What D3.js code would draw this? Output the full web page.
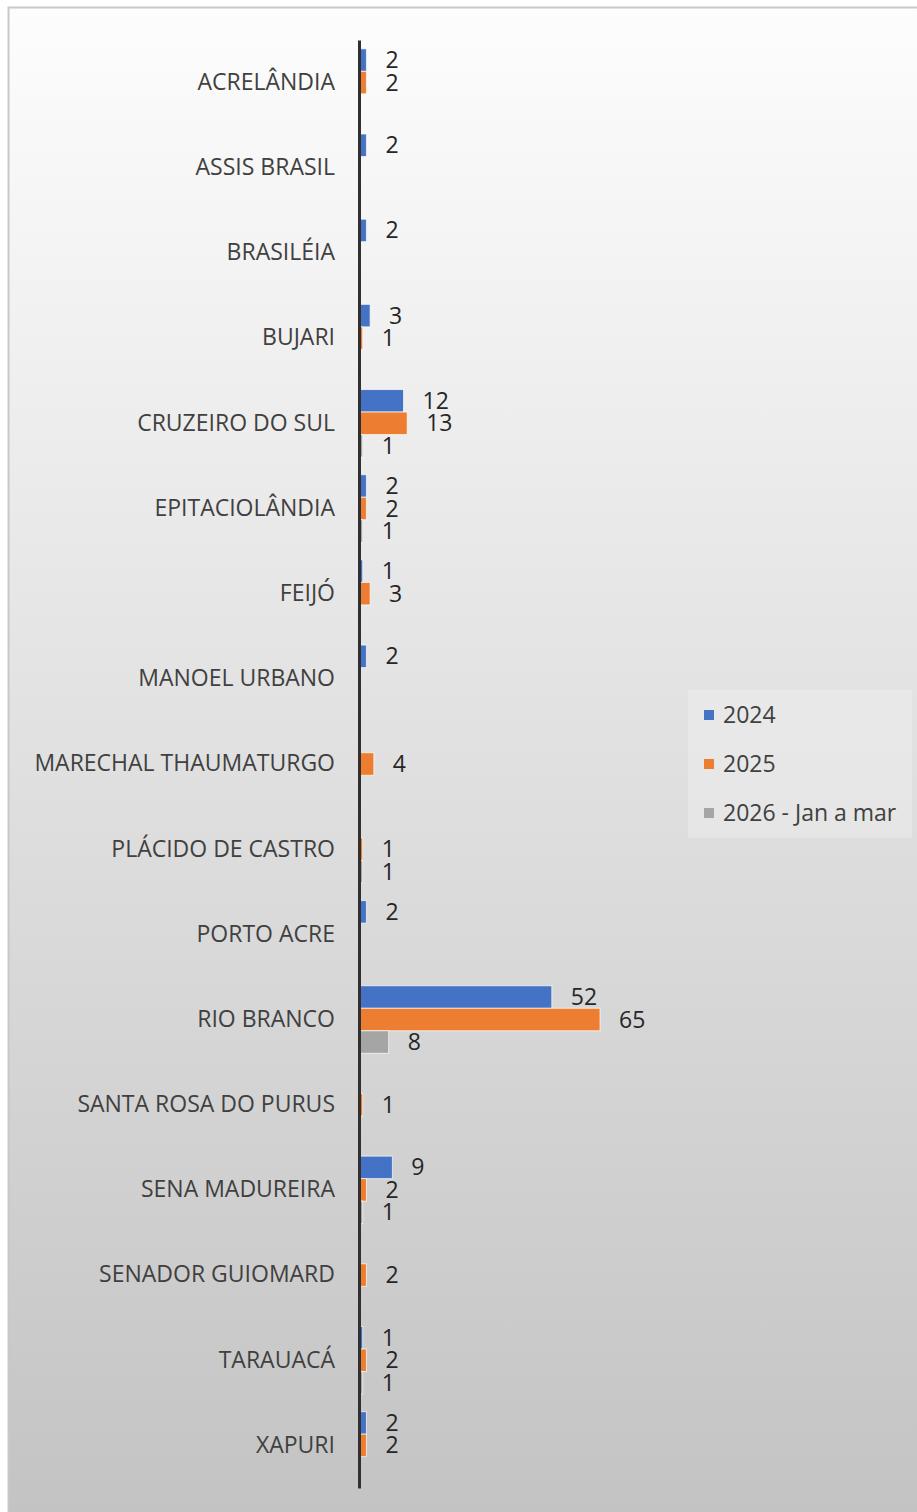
<!DOCTYPE html>
<html>
<head>
<meta charset="utf-8">
<script src="https://cdn.jsdelivr.net/npm/d3@7"></script>
<style>
  body { margin: 0; background: #fff; }
  text { font-family: "Segoe UI", "Open Sans", sans-serif; }
</style>
</head>
<body>
<div id="chart"></div>
<script>
const WIDTH = 917;
const HEIGHT = 1512;

// Data.
const CATEGORIES = ["ACRELÂNDIA", "ASSIS BRASIL", "BRASILÉIA", "BUJARI", "CRUZEIRO DO SUL",
  "EPITACIOLÂNDIA", "FEIJÓ", "MANOEL URBANO", "MARECHAL THAUMATURGO", "PLÁCIDO DE CASTRO",
  "PORTO ACRE", "RIO BRANCO", "SANTA ROSA DO PURUS", "SENA MADUREIRA", "SENADOR GUIOMARD",
  "TARAUACÁ", "XAPURI"];
const SERIES = ["2024", "2025", "2026 - Jan a mar"];
const V2024 = [2, 2, 2, 3, 12, 2, 1, 2, 0, 0, 2, 52, 0, 9, 0, 1, 2];
const V2025 = [2, 0, 0, 1, 13, 2, 3, 0, 4, 1, 0, 65, 1, 2, 2, 2, 2];
const V2026 = [0, 0, 0, 0, 1, 1, 0, 0, 0, 1, 0, 8, 0, 1, 0, 1, 0];
const COLORS = ["#4472C4", "#ED7D31", "#A5A5A5"];

window.onload = function() {

  var svg = d3.select("#chart").append("svg")
      .attr("width", WIDTH)
      .attr("height", HEIGHT);

  var defs = svg.append("defs");
  var grad = defs.append("linearGradient")
      .attr("id", "bg")
      .attr("x1", 0).attr("y1", 0).attr("x2", 0).attr("y2", 1);
  grad.append("stop").attr("offset", "0%").attr("stop-color", "#fdfdfd");
  grad.append("stop").attr("offset", "100%").attr("stop-color", "#c3c3c3");

  svg.append("rect")
      .attr("x", 8.5).attr("y", 7.5)
      .attr("width", WIDTH).attr("height", HEIGHT)
      .attr("fill", "url(#bg)")
      .attr("stroke", "#c8c8c8")
      .attr("stroke-width", 2);

  var x = d3.scaleLinear().domain([0, 65]).range([359, 600]);

  var y = d3.scaleBand().domain(CATEGORIES).range([40, 1488]);
  var ySub = d3.scaleBand().domain(SERIES).range([0, 67.5]);

  var values = [V2024, V2025, V2026];

  var rows = [];
  CATEGORIES.forEach(function(c, i) {
    SERIES.forEach(function(s, j) {
      rows.push({cat: c, series: s, value: values[j][i], color: COLORS[j]});
    });
  });

  var offset = (y.bandwidth() - 67.5) / 2;

  svg.selectAll("rect.bar")
      .data(rows.filter(function(d) { return d.value > 0; }))
      .enter()
      .append("rect")
      .attr("class", "bar")
      .attr("x", x(0))
      .attr("y", function(d) { return y(d.cat) + offset + ySub(d.series); })
      .attr("width", function(d) { return x(d.value) - x(0); })
      .attr("height", ySub.bandwidth())
      .attr("fill", function(d) { return d.color; })
      .attr("stroke", "#ffffff")
      .attr("stroke-opacity", 0.7)
      .attr("stroke-width", 1);

  svg.selectAll("text.val")
      .data(rows.filter(function(d) { return d.value > 0; }))
      .enter()
      .append("text")
      .attr("class", "val")
      .attr("x", function(d) { return x(d.value) + 19; })
      .attr("y", function(d) { return y(d.cat) + offset + ySub(d.series) + ySub.bandwidth() / 2; })
      .attr("dy", "0.35em")
      .attr("font-size", "23px")
      .attr("fill", "#262626")
      .text(function(d) { return d.value; });

  // Category axis.
  var axis = svg.append("g")
      .attr("transform", "translate(" + x(0) + ",0)")
      .call(d3.axisLeft(y).tickSize(0).tickPadding(24));
  axis.select(".domain")
      .attr("stroke", "#303030")
      .attr("stroke-width", 3);
  axis.selectAll("text")
      .attr("font-size", "23px")
      .attr("font-family", "'Segoe UI', 'Open Sans', sans-serif")
      .attr("fill", "#404040");

  // Legend.
  var legend = svg.append("g");
  legend.append("rect")
      .attr("x", 688).attr("y", 690)
      .attr("width", 224).attr("height", 148)
      .attr("fill", "#f2f2f2")
      .attr("fill-opacity", 0.4);

  var items = legend.selectAll("g.item")
      .data(SERIES)
      .enter()
      .append("g")
      .attr("class", "item")
      .attr("transform", function(d, i) { return "translate(704," + (715 + i * 49) + ")"; });
  items.append("rect")
      .attr("x", 0).attr("y", -5)
      .attr("width", 10).attr("height", 10)
      .attr("fill", function(d, i) { return COLORS[i]; });
  items.append("text")
      .attr("x", 19)
      .attr("dy", "0.35em")
      .attr("font-size", "23px")
      .attr("fill", "#404040")
      .text(function(d) { return d; });
};
</script>
</body>
</html>
